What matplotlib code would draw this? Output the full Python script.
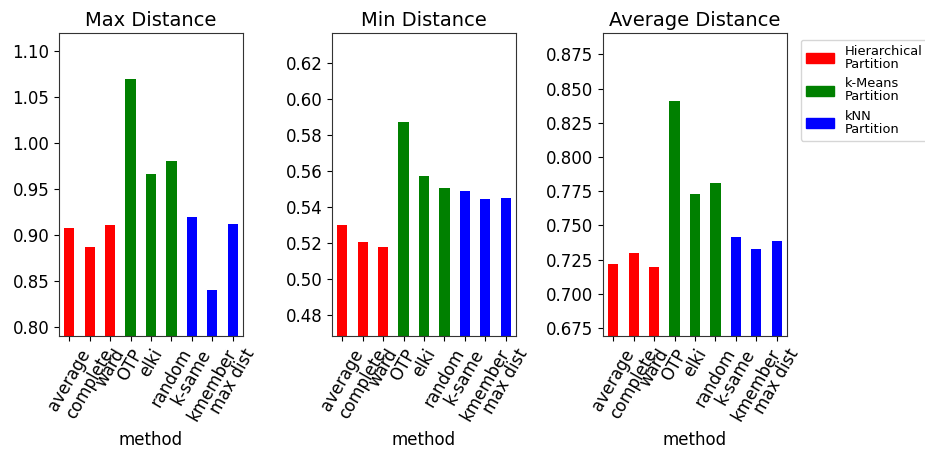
import numpy as np
import matplotlib
matplotlib.use("Agg")
import matplotlib.pyplot as plt
from matplotlib.patches import Patch

methods = ["average", "complete", "ward", "OTP", "elki", "random",
           "k-same", "kmember", "max dist"]
groups = ["Hierarchical\nPartition", "k-Means\nPartition", "kNN\nPartition"]
group_colors = ["red", "green", "blue"]
group_of = [0, 0, 0, 1, 1, 1, 2, 2, 2]

max_dist = [0.908, 0.887, 0.911, 1.070, 0.966, 0.981, 0.920, 0.840, 0.912]
min_dist = [0.5295, 0.5201, 0.5178, 0.5868, 0.5570, 0.5501, 0.5484, 0.5442, 0.5447]
avg_dist = [0.7221, 0.7301, 0.7194, 0.8407, 0.7727, 0.7812, 0.7418, 0.7325, 0.7383]

panels = [("Max Distance", max_dist, (0.790, 1.120)),
          ("Min Distance", min_dist, (0.4681, 0.6364)),
          ("Average Distance", avg_dist, (0.6692, 0.8906))]

fig = plt.figure(figsize=(9.25, 4.51), dpi=100)
lefts = [59, 332, 603]
W, H = 925, 451
colors = [group_colors[g] for g in group_of]
x = np.arange(len(methods))

for (title, vals, ylim), left in zip(panels, lefts):
    ax = fig.add_axes([left / W, (H - 336) / H, 184 / W, 303 / H])
    ax.bar(x, vals, width=0.5, color=colors)
    ax.set_xlim(-0.5, len(methods) - 0.5)
    ax.set_ylim(*ylim)
    ax.set_xticks(x)
    ax.set_xticklabels(methods, rotation=60, fontsize=12)
    ax.tick_params(axis="y", labelsize=12)
    ax.set_title(title, fontsize=14, pad=5)
    ax.set_xlabel("method", fontsize=12, labelpad=5)
    for s in ax.spines.values():
        s.set_color("#333333")

handles = [Patch(color=c) for c in group_colors]
leg = ax.legend(handles, groups, loc="upper left", bbox_to_anchor=(1.04, 1.0),
                fontsize=9.4, handlelength=2.1, handleheight=0.75,
                handletextpad=0.85, labelspacing=0.5)
for t in leg.get_texts():
    t.set_linespacing(1.0)

fig.savefig("out.png", dpi=100)
